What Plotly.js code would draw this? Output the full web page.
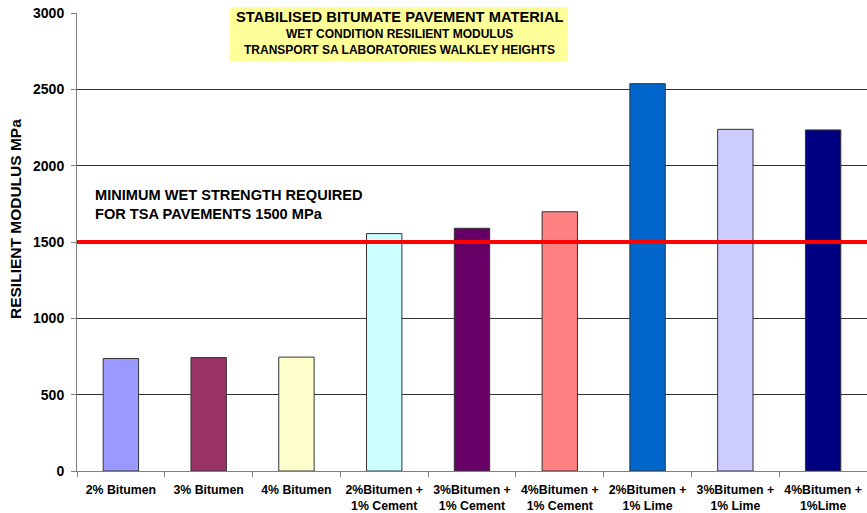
<!DOCTYPE html>
<html>
<head>
<meta charset="utf-8">
<script src="https://cdn.plot.ly/plotly-3.0.1.min.js"></script>
<style>html,body{margin:0;padding:0;background:#fff;}#chart{width:867px;height:513px;}</style>
</head>
<body>
<div id="chart"></div>
<script>
const categories = [
  "2% Bitumen", "3% Bitumen", "4% Bitumen",
  "2%Bitumen +<br>1% Cement", "3%Bitumen +<br>1% Cement", "4%Bitumen +<br>1% Cement",
  "2%Bitumen +<br>1% Lime", "3%Bitumen +<br>1% Lime", "4%Bitumen +<br>1%Lime"
];
const modulus = [737, 743, 746, 1555, 1590, 1698, 2537, 2238, 2234];
const barColors = ["#9999FF", "#993366", "#FFFFCC", "#CCFFFF", "#660066", "#FF8080", "#0066CC", "#CCCCFF", "#000080"];
const yTicks = [0, 500, 1000, 1500, 2000, 2500, 3000];
const minRequired = 1500;
const titleLines = [
  "STABILISED BITUMATE PAVEMENT MATERIAL",
  "WET CONDITION RESILIENT MODULUS",
  "TRANSPORT SA LABORATORIES WALKLEY HEIGHTS"
];
const yTitle = "RESILIENT MODULUS MPa";
const noteText = "MINIMUM WET STRENGTH REQUIRED<br>FOR TSA PAVEMENTS 1500 MPa";

const FONT = "Liberation Sans, Arial, sans-serif";
const b = s => "<b>" + s + "</b>";

const trace = {
  type: "bar",
  x: categories,
  y: modulus,
  marker: { color: barColors, line: { color: "#333333", width: 1 } },
  hoverinfo: "x+y"
};

const layout = {
  width: 867, height: 513,
  margin: { l: 77, r: 0, t: 13, b: 42, pad: 0 },
  paper_bgcolor: "#ffffff",
  plot_bgcolor: "#ffffff",
  showlegend: false,
  bargap: 0.597,
  font: { family: FONT, color: "#000" },
  xaxis: {
    type: "category",
    tickson: "boundaries",
    ticks: "outside",
    ticklen: 5,
    tickcolor: "#808080",
    showline: true,
    linecolor: "#808080",
    linewidth: 1,
    showgrid: false,
    tickvals: categories,
    ticktext: categories.map(b),
    tickangle: 0,
    ticklabelstandoff: 7,
    tickfont: { family: FONT, size: 12.3, color: "#000" },
    automargin: false
  },
  yaxis: {
    range: [0, 3000],
    tickvals: yTicks,
    ticktext: yTicks.map(v => b(String(v))),
    ticks: "outside",
    ticklen: 5,
    tickcolor: "#808080",
    showline: true,
    linecolor: "#808080",
    linewidth: 1,
    showgrid: true,
    gridcolor: "#333333",
    gridwidth: 1,
    zeroline: false,
    ticklabelstandoff: 4,
    tickfont: { family: FONT, size: 14, color: "#000" },
    automargin: false
  },
  shapes: [
    { type: "line", xref: "paper", yref: "y", x0: 0, x1: 1, y0: minRequired, y1: minRequired,
      line: { color: "#FF0000", width: 4 }, layer: "above" },
    { type: "rect", xref: "paper", yref: "paper",
      x0: (230 - 77) / 790, x1: (568 - 77) / 790, y0: (471 - 61) / 458, y1: (471 - 7) / 458,
      fillcolor: "#FFFF99", line: { width: 0 }, layer: "above" }
  ],
  annotations: [
    { xref: "paper", yref: "paper", x: (399 - 77) / 790, y: (471 - 17) / 458, text: b(titleLines[0]),
      showarrow: false, xanchor: "center", yanchor: "middle",
      font: { family: FONT, size: 14.7, color: "#000" } },
    { xref: "paper", yref: "paper", x: (399 - 77) / 790, y: (471 - 34) / 458, text: b(titleLines[1]),
      showarrow: false, xanchor: "center", yanchor: "middle",
      font: { family: FONT, size: 12, color: "#000" } },
    { xref: "paper", yref: "paper", x: (399 - 77) / 790, y: (471 - 50) / 458, text: b(titleLines[2]),
      showarrow: false, xanchor: "center", yanchor: "middle",
      font: { family: FONT, size: 12, color: "#000" } },
    { xref: "paper", yref: "paper", x: (93 - 77) / 790, y: (471 - 204) / 458, text: b(noteText),
      showarrow: false, xanchor: "left", yanchor: "middle", align: "left",
      font: { family: FONT, size: 14.6, color: "#000" } },
    { xref: "paper", yref: "paper", x: (15 - 77) / 790, y: (471 - 219) / 458, text: b(yTitle),
      showarrow: false, xanchor: "center", yanchor: "middle", textangle: -90,
      font: { family: FONT, size: 15.5, color: "#000" } }
  ]
};

Plotly.newPlot("chart", [trace], layout, { displayModeBar: false, staticPlot: true });
</script>
</body>
</html>
